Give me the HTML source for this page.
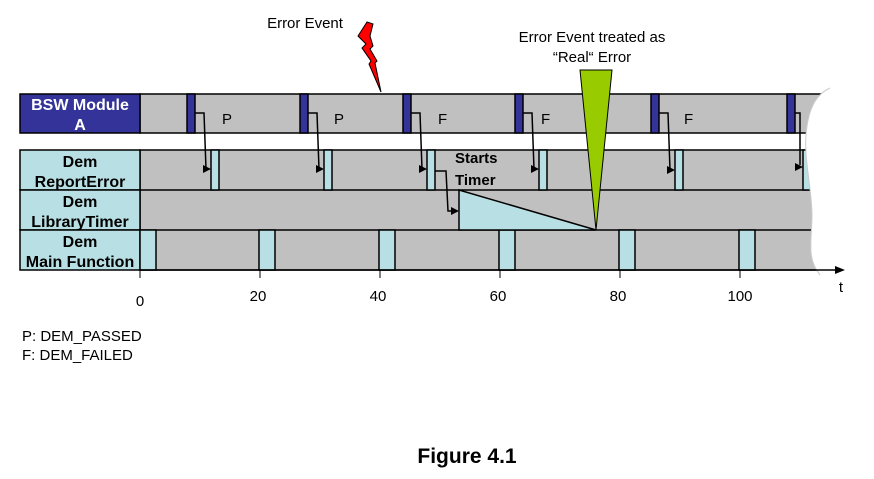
<!DOCTYPE html><html><head><style>body{margin:0;background:#fff}svg{display:block}text{font-family:"Liberation Sans",sans-serif}</style></head><body>
<svg width="874" height="479" viewBox="0 0 874 479" xmlns="http://www.w3.org/2000/svg">
<g stroke="#000" stroke-width="1.5">
<rect x="140" y="94" width="690" height="39" fill="#c0c0c0"/>
<rect x="140" y="150" width="690" height="120" fill="#c0c0c0"/>
<line x1="140" y1="190" x2="830" y2="190"/><line x1="140" y1="230" x2="830" y2="230"/>
<rect x="20" y="94" width="120" height="39" fill="#333399"/>
<rect x="20" y="150" width="120" height="40" fill="#b8e0e4"/>
<rect x="20" y="190" width="120" height="40" fill="#b8e0e4"/>
<rect x="20" y="230" width="120" height="40" fill="#b8e0e4"/>
<g fill="#333399"><rect x="187" y="94" width="8" height="39"/><rect x="300" y="94" width="8" height="39"/><rect x="403" y="94" width="8" height="39"/><rect x="515" y="94" width="8" height="39"/><rect x="651" y="94" width="8" height="39"/><rect x="787" y="94" width="8" height="39"/></g>
<g fill="#b8e0e4"><rect x="211" y="150" width="8" height="40"/><rect x="324" y="150" width="8" height="40"/><rect x="427" y="150" width="8" height="40"/><rect x="539" y="150" width="8" height="40"/><rect x="675" y="150" width="8" height="40"/><rect x="803" y="150" width="8" height="40"/>
<rect x="140" y="230" width="16" height="40"/><rect x="259" y="230" width="16" height="40"/><rect x="379" y="230" width="16" height="40"/><rect x="499" y="230" width="16" height="40"/><rect x="619" y="230" width="16" height="40"/><rect x="739" y="230" width="16" height="40"/>
<polygon points="459,190 459,230 596,230"/></g>
</g>
<g stroke="#000" stroke-width="1.5" fill="none">
<polyline points="195,113 204,113 206,169 209,169"/><polyline points="308,113 317,113 319,169 322,169"/><polyline points="411,113 420,113 422,169 425,169"/><polyline points="523,113 532,113 534,169 537,169"/><polyline points="659,113 668,113 670,170 673,170"/><polyline points="795,113 800,113 800,165"/>
<polyline points="435,171 446,171 448,211 453,211"/>
</g>
<g fill="#000"><polygon points="211,169 203,165 203,173"/><polygon points="324,169 316,165 316,173"/><polygon points="427,169 419,165 419,173"/><polygon points="539,169 531,165 531,173"/><polygon points="675,170 667,166 667,174"/><polygon points="803,167 795,163 795,171"/><polygon points="459,211 451,207 451,215"/></g>
<polygon points="580,70 612,70 596,230" fill="#99cc00" stroke="#000" stroke-width="1"/>
<polygon points="367,22 358,36 366,44 362,48 371,61 369,64 381,92 375,63 377,61 370,49 373,46 370,36 373,24" fill="#ff0000" stroke="#000" stroke-width="1"/>
<path d="M830,88 C815,95 808,110 806,135 C804,160 812,190 812,215 C812,240 806,258 820,275 L874,275 L874,88 Z" fill="#fff"/>
<path d="M830,88 C815,95 808,110 806,135 C804,160 812,190 812,215 C812,240 806,258 820,275" fill="none" stroke="#ccc" stroke-width="1"/>
<line x1="140" y1="270" x2="838" y2="270" stroke="#000" stroke-width="1.5"/><polygon points="845,270 835,266 835,274" fill="#000"/>
<g stroke="#000" stroke-width="1"><line x1="140" y1="270" x2="140" y2="278"/><line x1="260" y1="270" x2="260" y2="278"/><line x1="380" y1="270" x2="380" y2="278"/><line x1="500" y1="270" x2="500" y2="278"/><line x1="620" y1="270" x2="620" y2="278"/><line x1="740" y1="270" x2="740" y2="278"/></g>
<g font-size="16" font-weight="bold" text-anchor="middle">
<text x="80" y="110" fill="#fff">BSW Module</text><text x="80" y="130" fill="#fff">A</text>
<text x="80" y="167">Dem</text><text x="80" y="187">ReportError</text>
<text x="80" y="207">Dem</text><text x="80" y="227">LibraryTimer</text>
<text x="80" y="247">Dem</text><text x="80" y="267">Main Function</text>
</g>
<g font-size="15" font-weight="bold"><text x="455" y="163">Starts</text><text x="455" y="185">Timer</text></g>
<g font-size="15"><text x="222" y="124">P</text><text x="334" y="124">P</text><text x="438" y="124">F</text><text x="541" y="124">F</text><text x="684" y="124">F</text></g>
<g font-size="15" text-anchor="middle"><text x="305" y="28">Error Event</text><text x="592" y="42">Error Event treated as</text><text x="592" y="62">“Real“ Error</text>
<text x="140" y="306">0</text><text x="258" y="301">20</text><text x="378" y="301">40</text><text x="498" y="301">60</text><text x="618" y="301">80</text><text x="740" y="301">100</text><text x="841" y="292">t</text></g>
<g font-size="15"><text x="22" y="341">P: DEM_PASSED</text><text x="22" y="360">F: DEM_FAILED</text></g>
<text x="467" y="463" font-size="21" font-weight="bold" text-anchor="middle">Figure 4.1</text>
</svg></body></html>
